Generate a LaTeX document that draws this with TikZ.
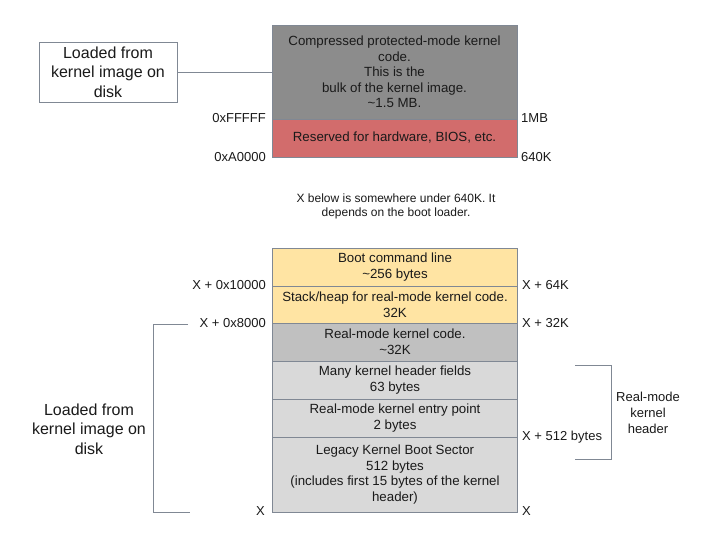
\documentclass[tikz,border=0pt]{standalone}
\usepackage{fontspec}
\setmainfont{Liberation Sans}
\definecolor{cgray}{HTML}{8C8C8C}
\definecolor{cred}{HTML}{D26C6C}
\definecolor{cyellow}{HTML}{FFE4A3}
\definecolor{cmid}{HTML}{C0C0C0}
\definecolor{clight}{HTML}{D9D9D9}
\definecolor{cline}{HTML}{808894}
\definecolor{ctext}{HTML}{1A1A1A}
\tikzset{
  membox/.style={draw=cline, line width=1pt, minimum width=245pt, inner sep=0pt,
    align=center, text=ctext, font=\fontsize{13.3}{15.6}\selectfont},
  addr/.style={inner sep=0pt, text=ctext, font=\fontsize{13}{15}\selectfont},
  addrL/.style={addr, anchor=east},
  addrR/.style={addr, anchor=west},
  conn/.style={draw=cline, line width=1pt},
  bigtxt/.style={align=center, inner sep=0pt, text=ctext, font=\fontsize{16}{19.5}\selectfont},
}
\begin{document}
\begin{tikzpicture}[x=1pt,y=-1pt]
\useasboundingbox[fill=white] (0,0) rectangle (719,546);

% top memory
\node[membox, fill=cgray, minimum height=94pt] (comp) at (394.5,72)
  {Compressed protected-mode kernel\\code.\\This is the\\bulk of the kernel image.\\\textasciitilde1.5 MB.};
\node[membox, fill=cred, minimum height=38pt] (resv) at (394.5,138)
  {Reserved for hardware, BIOS, etc.};

\node[draw=cline, line width=1pt, fill=white, minimum width=138pt, minimum height=60pt, bigtxt] (ltop) at (108,72)
  {Loaded from\\kernel image on\\disk};
\draw[conn] (ltop.east) -- (ltop.east -| comp.west);

\node[addrL] (a1) at (266,118) {0xFFFFF};
\node[addrL] (a2) at (266,157) {0xA0000};
\node[addrR] (a3) at (521,118) {1MB};
\node[addrR] (a4) at (521,157) {640K};

\node[align=center, inner sep=0pt, text=ctext, font=\fontsize{12}{14}\selectfont] (note) at (396,206)
  {X below is somewhere under 640K. It\\depends on the boot loader.};

% bottom memory
\node[membox, fill=cyellow, minimum height=38pt] (boot) at (395,267)
  {Boot command line\\\textasciitilde256 bytes};
\node[membox, fill=cyellow, minimum height=37pt] (stack) at (395,304.5)
  {Stack/heap for real-mode kernel code.\\32K};
\node[membox, fill=cmid, minimum height=38pt] (rcode) at (395,342)
  {Real-mode kernel code.\\\textasciitilde32K};
\node[membox, fill=clight, minimum height=38pt] (hdr) at (395,380)
  {Many kernel header fields\\63 bytes};
\node[membox, fill=clight, minimum height=38pt] (entry) at (395,418)
  {Real-mode kernel entry point\\2 bytes};
\node[membox, fill=clight, minimum height=75pt] (legacy) at (395,474.5)
  {Legacy Kernel Boot Sector\\512 bytes\\(includes first 15 bytes of the kernel\\header)};

\node[addrL] (b1) at (266,285) {X + 0x10000};
\node[addrL] (b2) at (266,323) {X + 0x8000};
\node[addrL] (b3) at (265,511) {X};
\node[addrR] (b4) at (522,285) {X + 64K};
\node[addrR] (b5) at (522,323) {X + 32K};
\node[addrR] (b6) at (522,437) {X + 512 bytes};
\node[addrR] (b7) at (522,511) {X};

% left bracket
\coordinate (lb1) at (188,324);
\coordinate (lb2) at (153,324);
\coordinate (lb3) at (153,512);
\coordinate (lb4) at (190,512);
\draw[conn] (lb1) -- (lb2) -- (lb3) -- (lb4);
\node[bigtxt] (lbot) at (89,429) {Loaded from\\kernel image on\\disk};

% right bracket
\coordinate (rb1) at (575,365);
\coordinate (rb2) at (611,365);
\coordinate (rb3) at (611,459);
\coordinate (rb4) at (575,459);
\draw[conn] (rb1) -- (rb2) -- (rb3) -- (rb4);
\node[align=center, inner sep=0pt, text=ctext, font=\fontsize{13}{16}\selectfont] (rlab) at (648,413)
  {Real-mode\\kernel\\header};
\end{tikzpicture}
\end{document}
